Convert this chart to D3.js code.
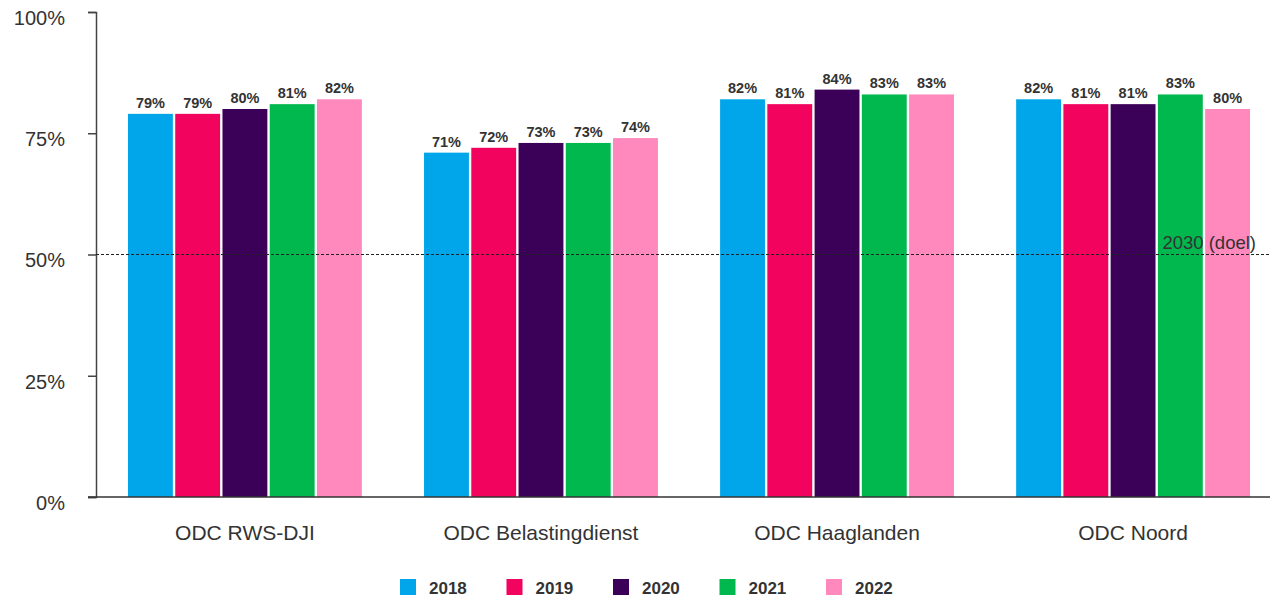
<!DOCTYPE html>
<html>
<head>
<meta charset="utf-8">
<script src="https://cdn.jsdelivr.net/npm/d3@7"></script>
<style>
  body { margin: 0; background: #fff; }
  svg { display: block; font-family: "Liberation Sans", Arial, sans-serif; }
</style>
</head>
<body>
<div id="chart"></div>
<script>
// data
const categories = ["ODC RWS-DJI", "ODC Belastingdienst", "ODC Haaglanden", "ODC Noord"];
const years = ["2018", "2019", "2020", "2021", "2022"];
const colors = ["#00a6e9", "#f2035e", "#3b0058", "#00b84e", "#ff88bd"];
const values2018 = [79, 71, 82, 82];
const values2019 = [79, 72, 81, 81];
const values2020 = [80, 73, 84, 81];
const values2021 = [81, 73, 83, 83];
const values2022 = [82, 74, 83, 80];
const yTicks = [0, 25, 50, 75, 100];
const target = 50;
const targetLabel = "2030 (doel)";

const series = [values2018, values2019, values2020, values2021, values2022];

const width = 1270, height = 600;
const margin = {top: 12, right: 0, bottom: 103, left: 96};
const plotH = height - margin.top - margin.bottom;

const svg = d3.select("#chart").append("svg")
    .attr("width", width)
    .attr("height", height);

const yScale = d3.scaleLinear().domain([0, 100]).range([margin.top + plotH, margin.top]);

// outer band scale for the groups, inner for the years
const xScale = d3.scaleBand()
    .domain(categories)
    .range([margin.left, 1282])
    .paddingInner(0.21)
    .paddingOuter(0.108);
const xInner = d3.scaleBand()
    .domain(years)
    .range([0, xScale.bandwidth()])
    .paddingInner(0.05);

// y axis
const yAxisG = svg.append("g")
    .attr("transform", "translate(" + margin.left + ",0)")
    .call(d3.axisLeft(yScale).tickValues(yTicks).tickFormat(d => d + "%").tickSize(8).tickSizeOuter(8).tickPadding(23));
yAxisG.select(".domain").attr("stroke", "#444").attr("stroke-width", 1.5);
yAxisG.selectAll(".tick line").attr("stroke", "#444").attr("stroke-width", 1.5);
yAxisG.selectAll(".tick text")
    .attr("dy", "0.62em")
    .attr("fill", "#333")
    .style("font-size", "20px");

// bars
const groups = svg.selectAll(".groupG")
    .data(categories)
    .join("g")
    .attr("class", "groupG")
    .attr("transform", d => "translate(" + xScale(d) + ",0)");

groups.selectAll(".bar")
    .data((d, i) => years.map((y, j) => ({year: y, value: series[j][i], color: colors[j]})))
    .join("rect")
    .attr("class", "bar")
    .attr("x", d => xInner(d.year))
    .attr("y", d => yScale(d.value))
    .attr("width", xInner.bandwidth())
    .attr("height", d => yScale(0) - yScale(d.value))
    .attr("fill", d => d.color);

groups.selectAll(".valLabel")
    .data((d, i) => years.map((y, j) => ({year: y, value: series[j][i]})))
    .join("text")
    .attr("class", "valLabel")
    .attr("x", d => xInner(d.year) + xInner.bandwidth() / 2)
    .attr("y", d => yScale(d.value) - 6)
    .attr("text-anchor", "middle")
    .attr("fill", "#333")
    .style("font-size", "14.5px")
    .style("font-weight", "bold")
    .text(d => d.value + "%");

// x axis baseline + category labels
svg.append("line")
    .attr("x1", margin.left - 8).attr("x2", width)
    .attr("y1", yScale(0)).attr("y2", yScale(0))
    .attr("stroke", "#333").attr("stroke-width", 1.5);

svg.selectAll(".catLabel")
    .data(categories)
    .join("text")
    .attr("class", "catLabel")
    .attr("x", d => xScale(d) + xScale.bandwidth() / 2)
    .attr("y", yScale(0) + 43)
    .attr("text-anchor", "middle")
    .attr("fill", "#333")
    .style("font-size", "21px")
    .text(d => d);

// target line
svg.append("line")
    .attr("x1", margin.left).attr("x2", width)
    .attr("y1", yScale(target)).attr("y2", yScale(target))
    .attr("stroke", "#222").attr("stroke-width", 1)
    .attr("stroke-dasharray", "3,2");
svg.append("text")
    .attr("x", 1256)
    .attr("y", yScale(target) - 6)
    .attr("text-anchor", "end")
    .attr("fill", "#333")
    .style("font-size", "18.5px")
    .text(targetLabel);

// legend
const legend = svg.append("g").attr("transform", "translate(400,587)");
const legendItems = legend.selectAll(".legG")
    .data(years)
    .join("g")
    .attr("class", "legG")
    .attr("transform", (d, i) => "translate(" + i * 106.5 + ",0)");
legendItems.append("rect")
    .attr("x", 0).attr("y", -8)
    .attr("width", 16).attr("height", 16)
    .attr("fill", (d, i) => colors[i]);
legendItems.append("text")
    .attr("x", 29).attr("y", 6.5)
    .attr("fill", "#333")
    .style("font-size", "17px")
    .style("font-weight", "bold")
    .text(d => d);
</script>
</body>
</html>
